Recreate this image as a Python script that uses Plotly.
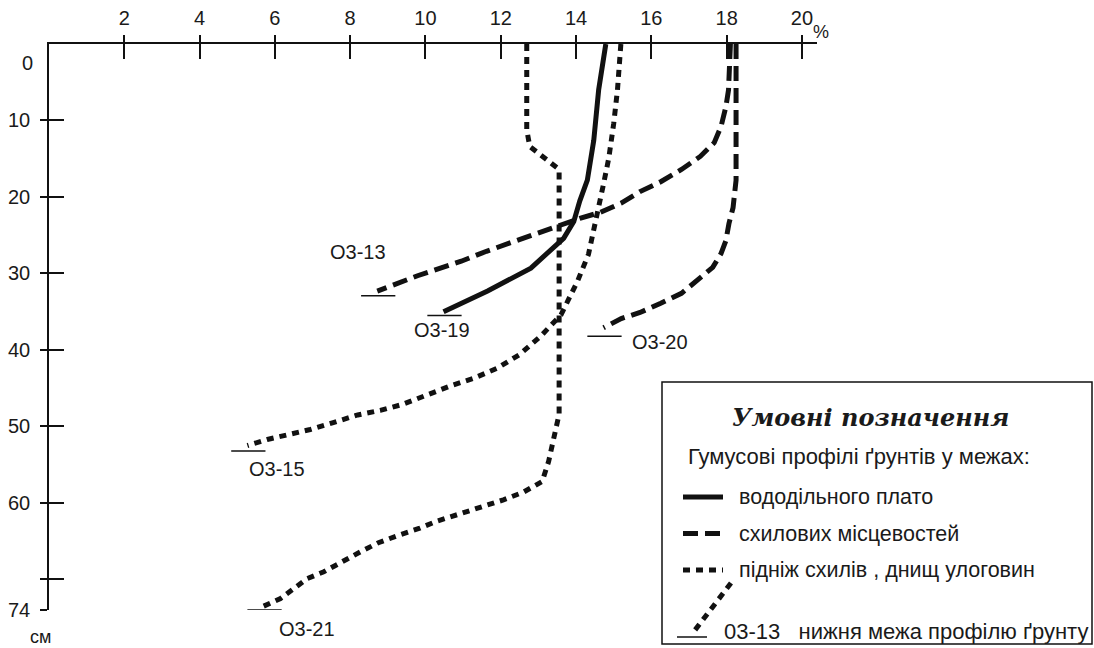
import plotly.graph_objects as go

# ---------------- data (humus %, depth cm) ----------------
# O3-19  watershed plateau (solid)
d19 = [0, 6, 12.6, 17.8, 20.5, 23.2, 25.4, 27.1, 29.3, 32.3, 35.0]
x19 = [14.79, 14.6, 14.47, 14.3, 14.1, 13.94, 13.67, 13.3, 12.8, 11.65, 10.48]
b19 = 35.5

# O3-13  slopes (dashed)
d13 = [0, 6, 8.2, 10.8, 12.9, 14.7, 16.4, 18.0, 19.3, 20.8, 22.0, 22.8, 24.0, 25.8, 27.1, 28.4, 30.3, 32.3]
x13 = [18.1, 18.05, 17.98, 17.85, 17.67, 17.3, 16.8, 16.25, 15.7, 15.2, 14.65, 14.1, 13.4, 12.34, 11.62, 10.95, 9.79, 8.72]
b13 = 32.9

# O3-20  slopes (dashed)
d20 = [0, 17.8, 21.4, 23.5, 25.7, 27.4, 29.2, 30.5, 32.6, 33.9, 35.1, 35.9, 37.1]
x20 = [18.25, 18.25, 18.17, 18.06, 17.98, 17.85, 17.63, 17.3, 16.8, 16.25, 15.7, 15.2, 14.73]
b20 = 38.2

# O3-15  foot of slopes (dotted)
d15 = [0, 6, 10.4, 14.9, 18.3, 21.4, 24.0, 27.5, 31.0, 33.6, 35.4, 38.2, 40.6, 42.4, 43.7,
       44.7, 45.8, 47.1, 47.9, 48.5, 49.5, 50.4, 51.1, 51.7, 52.5]
x15 = [15.19, 15.1, 15.0, 14.87, 14.73, 14.6, 14.47, 14.33, 14.04, 13.78, 13.6, 13.06, 12.5, 11.9, 11.28,
       10.67, 10.05, 9.4, 8.8, 8.2, 7.55, 6.94, 6.33, 5.8, 5.27]
b15 = 53.2

# O3-21  foot of slopes (dotted)
d21 = [0, 11.2, 13.4, 15.1, 16.4, 48.4, 51.6, 54.6, 57.2, 58.6, 59.6, 60.5, 61.4, 62.4, 63.3,
       64.2, 65.2, 66.4, 67.7, 69.0, 69.9, 71.2, 72.5, 73.5]
x21 = [12.69, 12.69, 12.77, 13.22, 13.55, 13.55, 13.4, 13.27, 13.1, 12.6, 12.07, 11.46, 10.93, 10.3, 9.85,
       9.3, 8.75, 8.27, 7.8, 7.3, 6.86, 6.5, 6.15, 5.7]
b21 = 74

x_ticks = [2, 4, 6, 8, 10, 12, 14, 16, 18, 20]
y_ticks = [10, 20, 30, 40, 50, 60, 70, 74]
y_ticktext = ["10", "20", "30", "40", "50", "60", "", "74"]

legend_title = "Умовні позначення"
legend_sub = "Гумусові профілі ґрунтів у межах:"
legend_items = ["вододільного плато", "схилових місцевостей", "підніж схилів , днищ улоговин"]
legend_bound = "03-13   нижня межа профілю ґрунту"

# ---------------- layout geometry ----------------
FW, FH = 1094, 648
L, T, R, B = 49, 44, 817, 610
PW, PH = R - L, B - T


def PX(px):
    return (px - L) / PW


def PY(py):
    return 1 - (py - T) / PH


FONT = "Liberation Sans, Arial, sans-serif"
BLACK = "#111111"
TXT = "#1a1a1a"

SOLID = "solid"
DASH = "15px,7px"
DOT = "7px,6px"

fig = go.Figure()

profiles = [
    ("O3-19", x19, d19, b19, SOLID),
    ("O3-13", x13, d13, b13, DASH),
    ("O3-20", x20, d20, b20, DASH),
    ("O3-15", x15, d15, b15, DOT),
    ("O3-21", x21, d21, b21, DOT),
]
for name, xs, ds, bottom, dash in profiles:
    fig.add_trace(go.Scatter(x=xs, y=ds, mode="lines", name=name,
                             line=dict(color=BLACK, width=5, dash=dash),
                             showlegend=False, hoverinfo="skip"))
    # lower boundary of the soil profile
    fig.add_trace(go.Scatter(x=[xs[-1] - 0.43, xs[-1] + 0.48], y=[bottom, bottom], mode="lines",
                             line=dict(color=BLACK, width=1.5), showlegend=False, hoverinfo="skip"))

# dummy trace for overlay axes (inside tick marks)
fig.add_trace(go.Scatter(x=[None], y=[None], xaxis="x2", yaxis="y2", showlegend=False, hoverinfo="skip"))

axis_common = dict(showgrid=False, zeroline=False, color=BLACK, tickcolor=BLACK, tickwidth=1.5,
                   automargin=False)

fig.update_layout(
    template="none",
    width=FW, height=FH,
    margin=dict(l=L, r=FW - R, t=T, b=FH - B, pad=0),
    paper_bgcolor="white", plot_bgcolor="white",
    font=dict(family=FONT, color=TXT),
    xaxis=dict(range=[0, 20.4], side="top", tickvals=x_ticks, ticks="outside", ticklen=7,
               showline=True, linecolor=BLACK, linewidth=1.5,
               tickfont=dict(size=20, family=FONT, color=TXT), ticklabelstandoff=2, **axis_common),
    yaxis=dict(range=[74, 0], tickvals=y_ticks, ticktext=y_ticktext, ticks="outside", ticklen=7,
               showline=True, linecolor=BLACK, linewidth=1.5,
               tickfont=dict(size=20, family=FONT, color=TXT), ticklabelstandoff=6, **axis_common),
    xaxis2=dict(range=[0, 20.4], overlaying="x", side="top", anchor="y2", tickvals=x_ticks,
                ticks="inside", ticklen=15, showticklabels=False, showline=False, **axis_common),
    yaxis2=dict(range=[74, 0], overlaying="y", side="left", anchor="x2", tickvals=y_ticks,
                ticks="inside", ticklen=15, showticklabels=False, showline=False, **axis_common),
)

ann = []


def text(px, py, s, size=20, xanchor="center", family=FONT):
    ann.append(dict(x=PX(px), y=PY(py), xref="paper", yref="paper", text=s, showarrow=False,
                    xanchor=xanchor, yanchor="middle", font=dict(size=size, family=family, color=TXT)))


# axis extras
text(27, 63, "0")
text(821, 32, "%", size=18)
text(40, 637, "см", size=18)

# profile labels
text(358, 252, "O3-13")
text(442, 330, "O3-19")
text(660, 342, "O3-20")
text(277, 469, "O3-15")
text(307, 629, "O3-21")

# legend box
shapes = [dict(type="rect", xref="paper", yref="paper", x0=PX(662), x1=PX(1092), y0=PY(382), y1=PY(644),
               line=dict(color=BLACK, width=1.5), fillcolor="white", layer="above")]
text(870, 417, "<b><i>" + legend_title + "</i></b>", size=24, family="DejaVu Serif, serif")
text(686, 456, legend_sub, size=22, xanchor="left")
for i, (lbl, dsh) in enumerate(zip(legend_items, [SOLID, DASH, DOT])):
    ly = 497 + i * 36.5
    shapes.append(dict(type="line", xref="paper", yref="paper", x0=PX(683), x1=PX(723), y0=PY(ly), y1=PY(ly),
                       line=dict(color=BLACK, width=5, dash=dsh), layer="above"))
    text(737, ly, lbl, size=21.5, xanchor="left")
shapes.append(dict(type="line", xref="paper", yref="paper", x0=PX(731), x1=PX(692), y0=PY(583), y1=PY(634),
                   line=dict(color=BLACK, width=5, dash=DOT), layer="above"))
shapes.append(dict(type="line", xref="paper", yref="paper", x0=PX(677), x1=PX(707), y0=PY(637), y1=PY(637),
                   line=dict(color=BLACK, width=1.5), layer="above"))
text(722, 631, legend_bound, size=22, xanchor="left")

fig.update_layout(annotations=ann, shapes=shapes)
fig.write_html("out.html", config={"displayModeBar": False},
               post_script="document.body.style.margin='0';document.body.style.overflow='hidden';")
